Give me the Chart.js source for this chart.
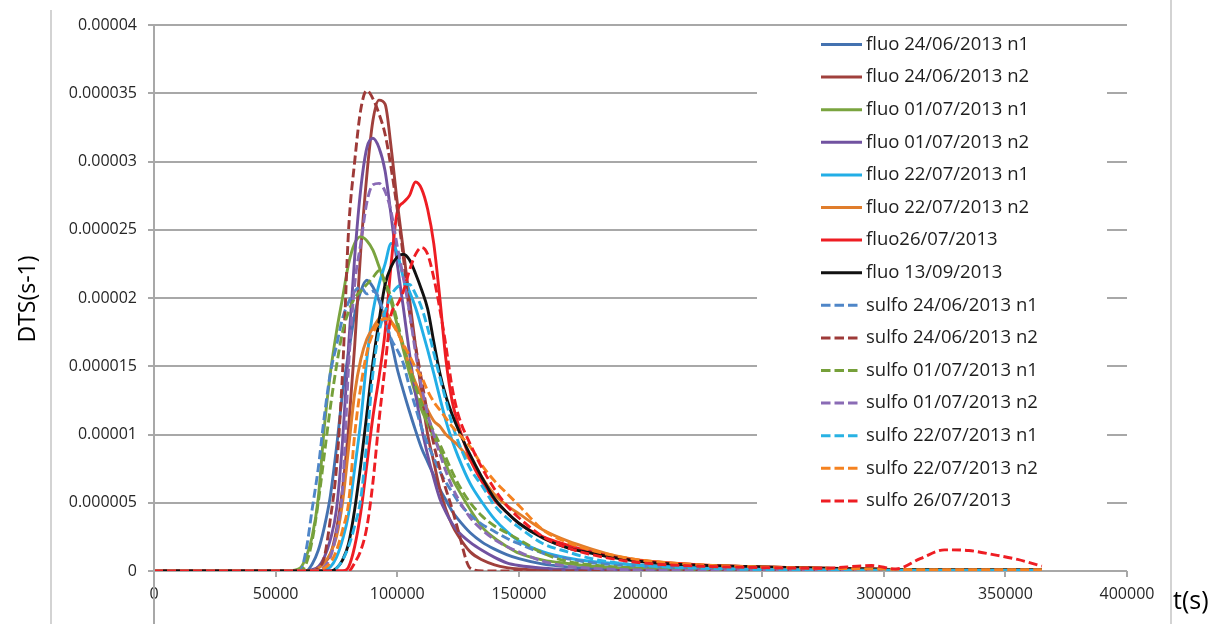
<!DOCTYPE html>
<html>
<head>
<meta charset="utf-8">
<script src="https://cdn.jsdelivr.net/npm/chart.js@4.4.1/dist/chart.umd.min.js"></script>
<style>
  html,body{margin:0;padding:0;background:#fff;}
  #wrap{width:1212px;height:624px;}
</style>
</head>
<body>
<div id="wrap"><canvas id="dts" width="1212" height="624"></canvas></div>
<script>
/* DTS curves, values in units of 1e-6 s-1 */
const times = [0,55000,60000,62500,65000, 67500,70000,72500,75000,77500,
  80000,82500,85000,87500,90000, 92500,95000,97500,100000,102500,
  105000,107500,110000,112500,115000, 117500,120000,122500,125000,130000,
  135000,140000,145000,150000,160000, 170000,180000,190000,200000,225000,
  250000,275000,295000,305000,315000, 325000,335000,345000,355000,365000];

const fluo240601 = [0,0,0,0,0.5, 1.5,3.2,5.5,9,13, 16,18.8,20.5,21.3,20.8, 19.8,18.3,16.8,14.8,13.2,
  11.7,10.3,9,8,7, 6,5.2,4.4,3.8,2.8, 2.1,1.6,1.2,0.9,0.5, 0.3,0.2,0.15,0.1,0.05,
  0.03,0.02,0.02,0.01,0.01, 0.01,0.01,0.01,0.01,0.01];
const fluo240602 = [0,0,0,0,0, 0.3,0.6,1.2,3,6, 10.5,16.5,23.5,29,33, 34.5,34.2,31,27,23.5,
  20,16.5,13,10,8, 6,4.5,3.4,2.6,1.4, 0.8,0.45,0.25,0.15,0.06, 0.03,0.02,0.01,0.01,0,
  0,0,0,0,0, 0,0,0,0,0];
const fluo010701 = [0,0,0.2,1,2.5, 5.3,10.5,14.5,17.5,20, 22.5,24,24.5,24.2,23.5, 22.3,21,19.7,18,16.2,
  14.5,13,11.8,10.8,9.8, 8.9,7.8,6.8,6,4.5, 3.2,2.4,1.8,1.3,0.8, 0.55,0.35,0.25,0.2,0.12,
  0.08,0.05,0.03,0.03,0.03, 0.03,0.03,0.03,0.03,0.03];
const fluo010702 = [0,0,0,0,0.1, 0.3,1,2.3,4.5,9.5, 16.5,23,28,31,31.7, 31,29.3,26,22.5,19.3,
  16,13,10.5,8.5,6.8, 5.3,4.3,3.5,2.9,2.1, 1.5,1,0.6,0.4,0.2, 0.1,0.06,0.04,0.03,0.02,
  0.01,0.01,0.01,0.01,0.01, 0.01,0.01,0.01,0.01,0.01];
const fluo220701 = [0,0,0,0,0, 0,0.1,0.3,1,2.3, 4.2,7.5,11,15.5,19, 21,22.5,24,23.3,21.5,
  20.5,19.3,17.8,16.2,14.5, 12.7,11,9.6,8.4,6.4, 5,3.8,2.9,2.2,1.4, 0.95,0.7,0.55,0.45,0.25,
  0.15,0.08,0.05,0.03,0.03, 0.03,0.03,0.03,0.03,0.03];
const fluo220702 = [0,0,0,0,0, 0.2,0.6,1.3,2.5,5, 9,13,15.5,17,17.8, 18.5,19,18.3,17.6,16.5,
  15,13.8,12.8,11.8,11, 10.6,10,9.6,9.2,8.1, 6.8,5.6,4.8,4.2,3, 2.2,1.6,1.1,0.8,0.45,
  0.3,0.2,0.15,0.12,0.1, 0.1,0.1,0.1,0.1,0.1];
const fluo2607 = [0,0,0,0,0, 0,0,0,0,0, 0.3,1.8,4.3,7.8,11.3, 14.2,17.5,22.5,26.3,27,
  27.5,28.5,28,26.5,24, 20,15.5,12.5,10.8,8.2, 6.5,5.2,4.3,3.5,2.5, 1.9,1.4,1,0.75,0.45,
  0.3,0.2,0.15,0.1,0.1, 0.1,0.1,0.1,0.1,0.1];
const fluo1309 = [0,0,0,0,0, 0,0,0,0.2,0.8, 2,4.5,7.8,11.5,15.3, 18.3,21,22.3,23,23.2,
  22.8,21.8,20.6,19.2,16.8, 14.5,12.8,11.5,10.4,8.5, 6.8,5.3,4.3,3.5,2.4, 1.7,1.3,0.95,0.7,0.4,
  0.3,0.2,0.15,0.12,0.12, 0.1,0.1,0.1,0.1,0.1];
const sulfo240601 = [0,0,0,1.5,4.5, 7.5,11.3,14.5,16.5,18.5, 19.7,20.5,20.8,20.3,20.5, 20,18.5,17,16.2,15.2,
  13.5,12,10.5,9.3,8.3, 7.3,6.5,5.8,5.1,4.1, 3.4,2.9,2.4,2,1.3, 0.9,0.6,0.45,0.35,0.2,
  0.12,0.08,0.05,0.05,0.05, 0.05,0.05,0.05,0.05,0.05];
const sulfo240602 = [0,0,0,0,0, 0.2,1,3.8,7.5,14.5, 25,30,33.8,35.2,34.6, 33.5,32,29.5,26.5,23,
  19,16.5,14,11.5,9.3, 7.5,6,4.6,3,0.2, 0,0,0,0,0, 0,0,0,0,0,
  0,0,0,0,0, 0,0,0,0,0];
const sulfo010701 = [0,0,0,0.5,2.2, 5,8.5,12,15,17.5, 19,20,20.5,21,21.5, 22,21.2,20,18.3,16.5,
  15,13.5,12.3,11.2,10.2, 9.3,8.3,7.3,6.4,5, 4,3.3,2.8,2.3,1.3, 0.7,0.45,0.3,0.2,0.1,
  0.05,0.05,0.05,0.05,0.05, 0.05,0.05,0.05,0.05,0.05];
const sulfo010702 = [0,0,0,0,0, 0,0.3,1,2.8,6, 15,21,24,27,28.3, 28.4,27.8,26.3,23.8,21.5,
  19,16,13.5,11.5,10, 8.6,7.3,6.2,5.3,3.9, 3,2.3,1.8,1.4,0.7, 0.35,0.2,0.12,0.08,0.03,
  0.03,0.03,0.03,0.03,0.03, 0.03,0.03,0.03,0.03,0.03];
const sulfo220701 = [0,0,0,0,0, 0,0,0,0.2,0.8, 1.8,3.3,5.3,9.5,14.5, 17.5,19,20.2,20.8,21,
  21,20.3,19.3,17.8,16, 14.2,12.5,10.8,9.5,7.5, 6.2,4.8,3.9,3.2,2, 1.4,0.9,0.6,0.4,0.2,
  0.1,0.06,0.04,0.04,0.04, 0.04,0.04,0.04,0.04,0.04];
const sulfo220702 = [0,0,0,0,0, 0,0.2,0.6,1.5,3, 5,10,13.5,16,17.4, 18.2,18.5,18.2,17.5,16.6,
  15.8,14.9,14.2,13.2,12.4, 11.8,11.2,10.6,10.1,9.1, 7.7,6.6,5.7,4.8,3, 2.1,1.5,1.1,0.8,0.45,
  0.3,0.2,0.15,0.12,0.1, 0.1,0.1,0.1,0.1,0.1];
const sulfo2607 = [0,0,0,0,0, 0,0,0,0,0, 0,0.6,1.5,3.2,6.5, 11,15,18.8,19.5,20.5,
  22,23.2,23.7,23.2,21.5, 19.2,16.5,13.5,11.5,9.3, 7.5,6,4.8,3.9,2.5, 1.7,1.2,0.85,0.6,0.35,
  0.25,0.2,0.4,0.15,0.9, 1.55,1.5,1.2,0.85,0.35];

const seriesNames = ['fluo 24/06/2013 n1','fluo 24/06/2013 n2','fluo 01/07/2013 n1','fluo 01/07/2013 n2',
  'fluo 22/07/2013 n1','fluo 22/07/2013 n2','fluo26/07/2013','fluo 13/09/2013',
  'sulfo 24/06/2013 n1','sulfo 24/06/2013 n2','sulfo 01/07/2013 n1','sulfo 01/07/2013 n2',
  'sulfo 22/07/2013 n1','sulfo 22/07/2013 n2','sulfo 26/07/2013'];
const seriesValues = [fluo240601,fluo240602,fluo010701,fluo010702,fluo220701,fluo220702,fluo2607,fluo1309,
  sulfo240601,sulfo240602,sulfo010701,sulfo010702,sulfo220701,sulfo220702,sulfo2607];
const seriesColors = ['#4472B0','#A0403C','#7AA43F','#7152A0','#22AEE6','#E07D2C','#EE1D23','#111111',
  '#4F86C8','#9E3A38','#76A03A','#8A6BB5','#29B2E3','#F58220','#EE1D23'];

const yTickLabels = ['0','0.000005','0.00001','0.000015','0.00002','0.000025','0.00003','0.000035','0.00004'];
const xTickLabels = ['0','50000','100000','150000','200000','250000','300000','350000','400000'];

const GRID = '#a8a8a8';
const FONT = '"Open Sans", "DejaVu Sans", sans-serif';
const DASH = [9,4];

const datasets = seriesNames.map((name,i)=>({
  label:name,
  data:times.map((t,k)=>({x:t, y:seriesValues[i][k]})),
  borderColor:seriesColors[i],
  backgroundColor:seriesColors[i],
  borderWidth:2.9,
  borderDash:i>=8 ? DASH : [],
  pointRadius:0,
  fill:false,
  cubicInterpolationMode:'monotone',
  order:seriesNames.length - i
}));

/* frame lines, long y axis, legend box, axis titles */
const decor = {
  id:'decor',
  beforeDatasetsDraw(chart){
    const c = chart.ctx;
    c.save();
    c.fillStyle = '#fff';
    c.fillRect(757, 28, 350, 494);
    c.restore();
  },
  afterDraw(chart){
    const c = chart.ctx, a = chart.chartArea;
    c.save();
    c.strokeStyle = '#c4c4c4'; c.lineWidth = 1.5;
    c.beginPath(); c.moveTo(51, 10); c.lineTo(51, 624); c.stroke();
    c.beginPath(); c.moveTo(1171, 0); c.lineTo(1171, 624); c.stroke();
    c.strokeStyle = GRID; c.lineWidth = 2;
    c.beginPath(); c.moveTo(a.left, a.top); c.lineTo(a.left, 624); c.stroke();

    /* legend */
    seriesNames.forEach((name,i)=>{
      const y = 44.5 + i*32.6;
      c.strokeStyle = seriesColors[i];
      c.lineWidth = 3;
      c.setLineDash(i>=8 ? [9.5,4] : []);
      c.beginPath(); c.moveTo(821, y); c.lineTo(i>=8 ? 858 : 862, y); c.stroke();
      c.setLineDash([]);
      c.fillStyle = '#1e1e1e';
      c.font = '18.5px ' + FONT;
      c.textAlign = 'left'; c.textBaseline = 'middle';
      c.fillText(name, 866, y);
    });

    /* axis titles */
    c.fillStyle = '#000';
    c.font = '23px ' + FONT;
    c.translate(28, 299); c.rotate(-Math.PI/2);
    c.textAlign = 'center'; c.textBaseline = 'middle';
    c.fillText('DTS(s-1)', 0, 0);
    c.setTransform(1,0,0,1,0,0);
    c.font = '25px ' + FONT;
    c.textAlign = 'left';
    c.fillText('t(s)', 1173, 602);
    c.restore();
  }
};

new Chart(document.getElementById('dts'),{
  type:'line',
  data:{datasets},
  options:{
    responsive:false,
    animation:false,
    parsing:false,
    layout:{padding:{top:25, right:85, left:0, bottom:0}},
    plugins:{legend:{display:false}, tooltip:{enabled:false}},
    scales:{
      x:{
        type:'linear', min:0, max:400000,
        afterFit:s=>{ s.height = 53; },
        grid:{drawOnChartArea:false, drawTicks:true, tickLength:6, color:GRID, lineWidth:2},
        border:{display:false},
        ticks:{stepSize:50000, padding:8, maxRotation:0, autoSkip:false, color:'#262626',
          font:{family:FONT, size:16},
          callback:(v,i)=>xTickLabels[i]}
      },
      y:{
        min:0, max:40,
        afterFit:s=>{ s.width = 154; },
        grid:{color:GRID, lineWidth:2, tickLength:6},
        border:{display:false},
        ticks:{stepSize:5, padding:11, color:'#262626',
          font:{family:FONT, size:16},
          callback:(v,i)=>yTickLabels[i]}
      }
    }
  },
  plugins:[decor]
});
</script>
</body>
</html>
